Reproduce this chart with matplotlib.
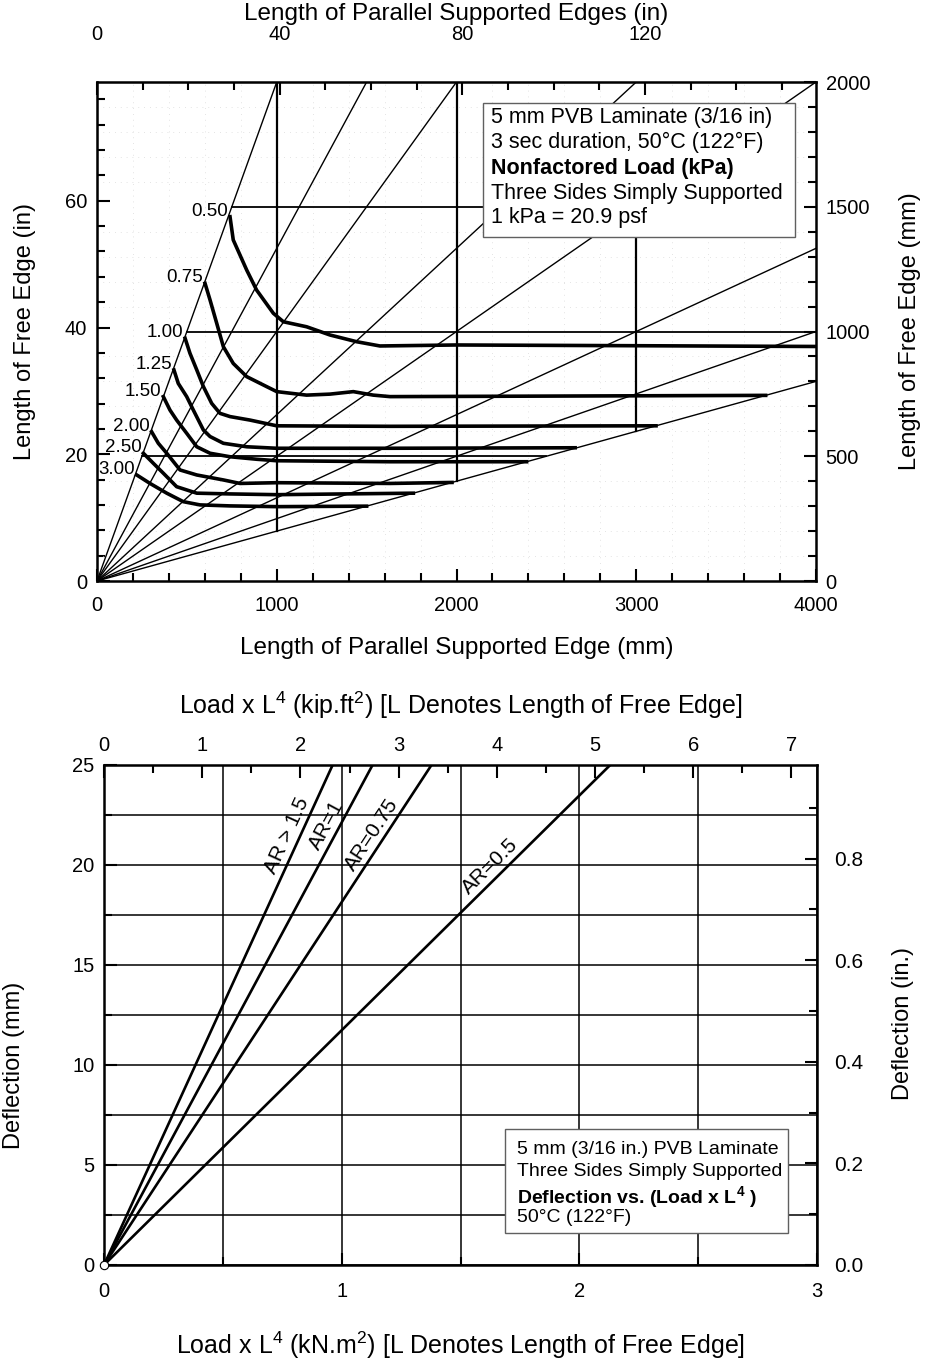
import numpy as np
import matplotlib.pyplot as plt
from matplotlib.patches import Rectangle
from matplotlib.ticker import MultipleLocator, FormatStrFormatter

plt.rcParams['font.family'] = ['Liberation Sans', 'DejaVu Sans']
plt.rcParams['mathtext.fontset'] = 'custom'
plt.rcParams['mathtext.rm'] = 'Liberation Sans'
plt.rcParams['mathtext.it'] = 'Liberation Sans:italic'
plt.rcParams['mathtext.bf'] = 'Liberation Sans:bold'

MM_PER_IN = 25.4
KNM2_PER_KIPFT2 = 0.4132

# ---- top chart: nonfactored load chart
ar_slopes = [2.0, 4 / 3, 1.0, 2 / 3, 0.5, 1 / 3, 0.25, 0.2]   # free edge / parallel edge
grid_v_x = [1000, 2000, 3000]
grid_v_top = [2000, 2000, 1500]
grid_h_y = [500, 1000, 1500]
grid_h_right = [2500, 4000, 3000]

load_labels = ['0.50', '0.75', '1.00', '1.25', '1.50', '2.00', '2.50', '3.00']
load_x = [
    [740, 758, 833, 888, 981, 1037, 1166, 1296, 1445, 1574, 2000, 4000],
    [601, 629, 666, 703, 758, 833, 944, 1000, 1166, 1296, 1426, 1537, 1630, 3720],
    [490, 517, 555, 592, 638, 684, 740, 851, 1000, 1259, 1630, 3110],
    [428, 452, 499, 536, 592, 629, 703, 833, 1000, 1630, 2660],
    [369, 406, 443, 499, 555, 629, 740, 888, 1000, 1630, 2390],
    [304, 341, 388, 462, 555, 703, 796, 1000, 1630, 1975],
    [258, 313, 369, 443, 555, 740, 1000, 1760],
    [221, 295, 388, 480, 573, 740, 1000, 1500],
]
load_y = [
    [1460, 1367, 1246, 1166, 1073, 1039, 1019, 986, 959, 942, 946, 940],
    [1193, 1126, 1033, 939, 872, 819, 779, 759, 745, 749, 759, 745, 739, 744],
    [973, 913, 846, 779, 712, 672, 659, 645, 622, 621, 620, 622],
    [846, 792, 739, 685, 605, 579, 552, 538, 532, 532, 534],
    [739, 685, 645, 592, 538, 512, 498, 488, 482, 478, 478],
    [598, 552, 512, 445, 425, 405, 391, 394, 391, 395],
    [512, 472, 432, 378, 352, 349, 346, 352],
    [425, 391, 352, 318, 305, 301, 298, 300],
]

# ---- bottom chart: deflection vs load x L^4
ar_labels = ['AR > 1.5', 'AR=1', 'AR=0.75', 'AR=0.5']
ar_load_at_25mm = [0.962, 1.130, 1.378, 2.130]
ar_label_defl = [21.2, 21.7, 21.2, 19.5]

fig = plt.figure(figsize=(9.25, 13.65), dpi=100)


def style_ticks(a, pad, labelsize=14.5):
    a.tick_params(which='both', direction='in', width=1.5, labelsize=labelsize, pad=pad)
    a.tick_params(which='major', length=9)
    a.tick_params(which='minor', length=6)


def place_label(axis, host, x, y):
    axis.set_label_coords(x, y, transform=host.transAxes)
    axis.label.set_va('center')
    axis.label.set_ha('center')


# ================= top chart =================
ax = fig.add_axes([97 / 925, 1 - 581 / 1365, 719 / 925, 499 / 1365])
ax.set_xlim(0, 4000)
ax.set_ylim(0, 2000)

for s in ar_slopes:
    xe = min(4000, 2000 / s)
    ax.plot([0, xe], [0, s * xe], color='black', lw=1.0)

for x, yt in zip(grid_v_x, grid_v_top):
    ax.plot([x, x], [0.2 * x, yt], color='black', lw=1.6)
for y, xr in zip(grid_h_y, grid_h_right):
    ax.plot([y / 2, xr], [y, y], color='black', lw=1.3)

for lab, xs, ys in zip(load_labels, load_x, load_y):
    ax.plot(xs, ys, color='black', lw=2.6, solid_joinstyle='round')
    ax.annotate(lab, (xs[0], ys[0]), xytext=(-1.5, 4), textcoords='offset points',
                ha='right', va='center', fontsize=13.5)

ax.grid(True, which='minor', color='#dadada', lw=0.6, linestyle=(0, (1, 6)))
ax.xaxis.set_major_locator(MultipleLocator(1000))
ax.xaxis.set_minor_locator(MultipleLocator(200))
ax.yaxis.set_major_locator(MultipleLocator(500))
ax.yaxis.set_minor_locator(MultipleLocator(100))
ax.yaxis.tick_right()
ax.yaxis.set_label_position('right')
style_ticks(ax, 7)
ax.tick_params(axis='x', pad=11)
for sp in ax.spines.values():
    sp.set_linewidth(1.8)

top_in = ax.secondary_xaxis('top', functions=(lambda v: v / MM_PER_IN, lambda v: v * MM_PER_IN))
top_in.xaxis.set_major_locator(MultipleLocator(40))
top_in.xaxis.set_minor_locator(MultipleLocator(10))
style_ticks(top_in, 27)

left_in = ax.secondary_yaxis('left', functions=(lambda v: v / MM_PER_IN, lambda v: v * MM_PER_IN))
left_in.yaxis.set_major_locator(MultipleLocator(20))
left_in.yaxis.set_minor_locator(MultipleLocator(4))
style_ticks(left_in, 7)

ax.set_xlabel('Length of Parallel Supported Edge (mm)', fontsize=17.5)
place_label(ax.xaxis, ax, 0.5, -0.134)
ax.set_ylabel('Length of Free Edge (mm)', fontsize=17)
place_label(ax.yaxis, ax, 1.131, 0.5)
top_in.set_xlabel('Length of Parallel Supported Edges (in)', fontsize=17.5)
place_label(top_in.xaxis, ax, 0.5, 1.136)
left_in.set_ylabel('Length of Free Edge (in)', fontsize=17)
place_label(left_in.yaxis, ax, -0.100, 0.5)

ax.add_patch(Rectangle((0.537, 0.689), 0.434, 0.269, transform=ax.transAxes,
                       facecolor='white', edgecolor='#606060', lw=1.0, zorder=5))
box_lines = ['5 mm PVB Laminate (3/16 in)', '3 sec duration, 50\u00b0C (122\u00b0F)',
             'Nonfactored Load (kPa)', 'Three Sides Simply Supported', '1 kPa = 20.9 psf']
box_y = [0.928, 0.878, 0.826, 0.776, 0.728]
for i, (t, y) in enumerate(zip(box_lines, box_y)):
    ax.text(0.548, y, t, transform=ax.transAxes, fontsize=15.5, ha='left', va='center',
            fontweight='bold' if i == 2 else 'normal', zorder=6)

# ================= bottom chart =================
ax2 = fig.add_axes([104 / 925, 100 / 1365, 713 / 925, 500 / 1365])
ax2.set_xlim(0, 3)
ax2.set_ylim(0, 25)
ax2.xaxis.set_major_locator(MultipleLocator(1))
ax2.xaxis.set_minor_locator(MultipleLocator(0.5))
ax2.yaxis.set_major_locator(MultipleLocator(5))
ax2.yaxis.set_minor_locator(MultipleLocator(2.5))
ax2.grid(True, which='both', color='black', lw=1.1)
ax2.set_axisbelow(True)
style_ticks(ax2, 7)
ax2.tick_params(axis='x', pad=12)
for sp in ax2.spines.values():
    sp.set_linewidth(1.8)

for lab, xt, ly in zip(ar_labels, ar_load_at_25mm, ar_label_defl):
    ax2.plot([0, xt], [0, 25], color='black', lw=1.9)
    p0 = ax2.transData.transform((0, 0))
    p1 = ax2.transData.transform((xt, 25))
    ang = np.degrees(np.arctan2(p1[1] - p0[1], p1[0] - p0[0]))
    off = 8.5
    dx = -off * np.sin(np.radians(ang))
    dy = off * np.cos(np.radians(ang))
    ax2.annotate(lab, (ly / 25 * xt, ly), xytext=(dx, dy), textcoords='offset points',
                 rotation=ang, rotation_mode='anchor', ha='center', va='center', fontsize=15)

ax2.plot([0], [0], 'o', mfc='white', mec='black', ms=6, mew=0.8, clip_on=False, zorder=6)

top_kip = ax2.secondary_xaxis('top', functions=(lambda v: v / KNM2_PER_KIPFT2,
                                                lambda v: v * KNM2_PER_KIPFT2))
top_kip.xaxis.set_major_locator(MultipleLocator(1))
top_kip.xaxis.set_minor_locator(MultipleLocator(0.5))
style_ticks(top_kip, 7)

right_in = ax2.secondary_yaxis('right', functions=(lambda v: v / MM_PER_IN, lambda v: v * MM_PER_IN))
right_in.yaxis.set_major_locator(MultipleLocator(0.2))
right_in.yaxis.set_minor_locator(MultipleLocator(0.1))
right_in.yaxis.set_major_formatter(FormatStrFormatter('%.1f'))
style_ticks(right_in, 12, labelsize=15)

ax2.set_xlabel(r'Load x L$^4$ (kN.m$^2$) [L Denotes Length of Free Edge]', fontsize=18)
place_label(ax2.xaxis, ax2, 0.5, -0.16)
ax2.set_ylabel('Deflection (mm)', fontsize=17)
place_label(ax2.yaxis, ax2, -0.126, 0.4)
top_kip.set_xlabel(r'Load x L$^4$ (kip.ft$^2$) [L Denotes Length of Free Edge]', fontsize=18)
place_label(top_kip.xaxis, ax2, 0.5, 1.12)
right_in.set_ylabel('Deflection (in.)', fontsize=17)
place_label(right_in.yaxis, ax2, 1.12, 0.484)

ax2.add_patch(Rectangle((0.5624, 0.064), 0.3966, 0.208, transform=ax2.transAxes,
                        facecolor='white', edgecolor='#606060', lw=1.0, zorder=5))
box2_lines = ['5 mm (3/16 in.) PVB Laminate', 'Three Sides Simply Supported',
              r'Deflection vs. (Load x L$^\mathbf{4}$ )', '50\u00b0C (122\u00b0F)']
box2_y = [0.230, 0.186, 0.136, 0.094]
for i, (t, y) in enumerate(zip(box2_lines, box2_y)):
    ax2.text(0.579, y, t, transform=ax2.transAxes, fontsize=14, ha='left', va='center',
             fontweight='bold' if i == 2 else 'normal', zorder=6)

fig.savefig('out.png', dpi=100)
